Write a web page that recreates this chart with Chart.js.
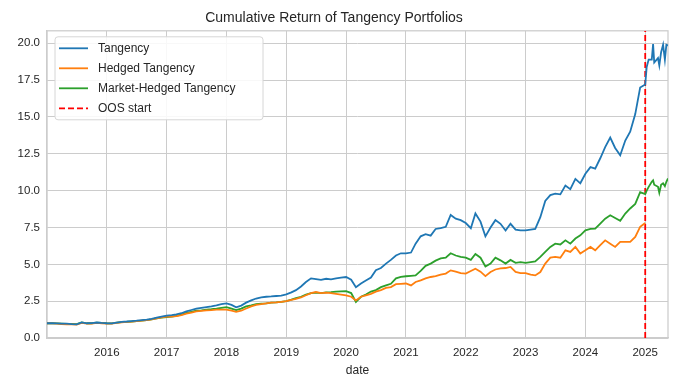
<!DOCTYPE html>
<html>
<head>
<meta charset="utf-8">
<script src="https://cdn.jsdelivr.net/npm/chart.js@4.4.1/dist/chart.umd.min.js"></script>
<style>
  html, body { margin: 0; padding: 0; background: #fff; }
  #grafico { display: block; }
</style>
</head>
<body>
<canvas id="grafico" width="676" height="387"></canvas>
<script>
// datas (mensal até 2024, mais denso em 2025)
const dates = [
  "2015-01-01","2015-02-01","2015-03-01","2015-04-01","2015-05-01","2015-06-01","2015-07-01","2015-08-01","2015-09-01","2015-10-01","2015-11-01","2015-12-01",
  "2016-01-01","2016-02-01","2016-03-01","2016-04-01","2016-05-01","2016-06-01","2016-07-01","2016-08-01","2016-09-01","2016-10-01","2016-11-01","2016-12-01",
  "2017-01-01","2017-02-01","2017-03-01","2017-04-01","2017-05-01","2017-06-01","2017-07-01","2017-08-01","2017-09-01","2017-10-01","2017-11-01","2017-12-01",
  "2018-01-01","2018-02-01","2018-03-01","2018-04-01","2018-05-01","2018-06-01","2018-07-01","2018-08-01","2018-09-01","2018-10-01","2018-11-01","2018-12-01",
  "2019-01-01","2019-02-01","2019-03-01","2019-04-01","2019-05-01","2019-06-01","2019-07-01","2019-08-01","2019-09-01","2019-10-01","2019-11-01","2019-12-01",
  "2020-01-01","2020-02-01","2020-03-01","2020-04-01","2020-05-01","2020-06-01","2020-07-01","2020-08-01","2020-09-01","2020-10-01","2020-11-01","2020-12-01",
  "2021-01-01","2021-02-01","2021-03-01","2021-04-01","2021-05-01","2021-06-01","2021-07-01","2021-08-01","2021-09-01","2021-10-01","2021-11-01","2021-12-01",
  "2022-01-01","2022-02-01","2022-03-01","2022-04-01","2022-05-01","2022-06-01","2022-07-01","2022-08-01","2022-09-01","2022-10-01","2022-11-01","2022-12-01",
  "2023-01-01","2023-02-01","2023-03-01","2023-04-01","2023-05-01","2023-06-01","2023-07-01","2023-08-01","2023-09-01","2023-10-01","2023-11-01","2023-12-01",
  "2024-01-01","2024-02-01","2024-03-01","2024-04-01","2024-05-01","2024-06-01","2024-07-01","2024-08-01","2024-09-01","2024-10-01","2024-11-01","2024-12-01",
  "2025-01-01","2025-01-10","2025-01-22","2025-02-10","2025-02-18","2025-02-25","2025-03-20","2025-03-28","2025-04-08","2025-04-20","2025-05-01","2025-05-10","2025-05-20"
];

const tangency = [
  1.00, 1.00, 0.99, 0.98, 0.97, 0.94, 0.93, 1.06, 1.00, 1.01, 1.05, 1.02,
  1.00, 0.99, 1.05, 1.10, 1.12, 1.15, 1.18, 1.22, 1.25, 1.30, 1.38, 1.45,
  1.52, 1.55, 1.60, 1.68, 1.80, 1.90, 2.00, 2.05, 2.10, 2.15, 2.22, 2.30,
  2.35, 2.25, 2.08, 2.20, 2.40, 2.55, 2.68, 2.75, 2.80, 2.82, 2.85, 2.88,
  2.96, 3.10, 3.25, 3.50, 3.80, 4.05, 4.00, 3.95, 4.02, 3.98, 4.05, 4.10,
  4.14, 3.95, 3.45, 3.70, 3.90, 4.10, 4.60, 4.75, 5.05, 5.30, 5.60, 5.75,
  5.75, 5.80, 6.40, 6.90, 7.05, 6.95, 7.40, 7.45, 7.55, 8.35, 8.10, 8.00,
  7.80, 7.45, 8.45, 7.90, 6.90, 7.50, 8.00, 7.75, 7.30, 7.75, 7.35, 7.30,
  7.30, 7.35, 7.40, 8.20, 9.30, 9.70, 9.80, 9.75, 10.35, 10.10, 10.80, 10.50,
  11.15, 11.60, 11.50, 12.20, 12.95, 13.60, 12.90, 12.40, 13.40, 14.00, 15.20, 17.00,
  17.20, 18.40, 18.90, 18.90, 19.95, 18.70, 19.00, 18.50, 19.40, 19.90, 18.90, 19.90, 19.85
];

const hedged = [
  1.00, 0.99, 0.97, 0.95, 0.93, 0.92, 0.91, 1.03, 0.97, 0.98, 1.02, 1.00,
  0.98, 0.97, 1.02, 1.06, 1.09, 1.11, 1.14, 1.18, 1.22, 1.27, 1.34, 1.40,
  1.45, 1.46, 1.48, 1.55, 1.65, 1.73, 1.80, 1.84, 1.87, 1.89, 1.92, 1.93,
  1.92, 1.85, 1.78, 1.85, 2.00, 2.15, 2.25, 2.30, 2.35, 2.40, 2.42, 2.45,
  2.50, 2.58, 2.65, 2.75, 2.90, 3.05, 3.12, 3.05, 3.08, 3.05, 3.00, 2.95,
  2.89, 2.80, 2.55, 2.80, 2.90, 3.00, 3.15, 3.25, 3.40, 3.46, 3.65, 3.68,
  3.70, 3.57, 3.80, 3.91, 4.05, 4.14, 4.20, 4.30, 4.37, 4.59, 4.50, 4.40,
  4.37, 4.55, 4.70, 4.50, 4.20, 4.48, 4.65, 4.72, 4.75, 4.82, 4.48, 4.40,
  4.40, 4.30, 4.25, 4.48, 5.05, 5.45, 5.50, 5.45, 5.95, 5.84, 6.18, 5.73,
  5.95, 6.18, 5.95, 6.30, 6.63, 6.40, 6.18, 6.52, 6.52, 6.52, 6.86, 7.54,
  7.81, null, null, null, null, null, null, null, null, null, null, null, null
];

const marketHedged = [
  1.00, 1.00, 0.99, 0.98, 0.96, 0.95, 0.94, 1.06, 1.00, 1.00, 1.04, 1.02,
  1.00, 0.99, 1.04, 1.08, 1.10, 1.12, 1.15, 1.18, 1.22, 1.27, 1.33, 1.38,
  1.41, 1.45, 1.50, 1.58, 1.70, 1.78, 1.85, 1.88, 1.93, 1.96, 2.00, 2.05,
  2.10, 2.00, 1.90, 2.00, 2.15, 2.22, 2.30, 2.33, 2.35, 2.40, 2.42, 2.45,
  2.50, 2.60, 2.70, 2.80, 2.95, 3.05, 3.08, 3.05, 3.10, 3.12, 3.15, 3.17,
  3.18, 3.05, 2.45, 2.80, 2.95, 3.15, 3.25, 3.45, 3.57, 3.68, 4.05, 4.15,
  4.19, 4.22, 4.25, 4.55, 4.90, 5.05, 5.25, 5.40, 5.45, 5.75, 5.60, 5.50,
  5.45, 5.30, 5.70, 5.45, 4.85, 5.05, 5.45, 5.27, 5.05, 5.30, 5.10, 5.15,
  5.10, 5.15, 5.20, 5.50, 5.84, 6.18, 6.40, 6.35, 6.63, 6.40, 6.75, 6.97,
  7.31, 7.40, 7.42, 7.77, 8.10, 8.33, 8.15, 7.95, 8.45, 8.79, 9.10, 9.90,
  9.76, 10.00, 10.26, 10.60, 10.70, 10.40, 10.26, 9.85, 10.40, 10.50, 10.30, 10.60, 10.83
];

const oosStart = "2025-01-01";
const xTicks = [2016, 2017, 2018, 2019, 2020, 2021, 2022, 2023, 2024, 2025];
const yTicks = [0, 2.5, 5, 7.5, 10, 12.5, 15, 17.5, 20];
const yMax = 20.85;

const corTexto = "#262626";
const corGrade = "#cccccc";
const fonte = "'Liberation Sans', Arial, sans-serif";

// data -> ano decimal
function anoDecimal(s) {
  const d = new Date(s + "T00:00:00Z");
  const ano = d.getUTCFullYear();
  const ini = Date.UTC(ano, 0, 1);
  const fim = Date.UTC(ano + 1, 0, 1);
  return ano + (d.getTime() - ini) / (fim - ini);
}

function pontos(valores) {
  return dates.map((dt, i) => ({ x: anoDecimal(dt), y: valores[i] }));
}

const xMin = anoDecimal(dates[0]);
const xMax = anoDecimal(dates[dates.length - 1]);
const xOos = anoDecimal(oosStart);

// moldura completa (spines do seaborn whitegrid)
const moldura = {
  id: "moldura",
  beforeDatasetsDraw(chart) {
    const { ctx, chartArea: ca } = chart;
    ctx.save();
    ctx.strokeStyle = corGrade;
    ctx.lineWidth = 1.25;
    ctx.strokeRect(ca.left, ca.top, ca.right - ca.left, ca.bottom - ca.top);
    ctx.restore();
  }
};

// legenda dentro do gráfico, estilo matplotlib
const legendaInterna = {
  id: "legendaInterna",
  afterDatasetsDraw(chart) {
    const ctx = chart.ctx;
    const ca = chart.chartArea;
    const x0 = ca.left + 8, y0 = ca.top + 6;
    const w = 208, h = 83;

    ctx.save();
    ctx.beginPath();
    ctx.roundRect(x0, y0, w, h, 3);
    ctx.fillStyle = "rgba(255,255,255,0.85)";
    ctx.fill();
    ctx.strokeStyle = "#d6d6d6";
    ctx.lineWidth = 1;
    ctx.stroke();

    ctx.font = "12px " + fonte;
    ctx.textBaseline = "middle";
    chart.data.datasets.forEach((ds, i) => {
      const yy = y0 + 11.5 + i * 20;
      ctx.beginPath();
      ctx.strokeStyle = ds.borderColor;
      ctx.lineWidth = ds.borderWidth;
      ctx.setLineDash(ds.borderDash || []);
      ctx.moveTo(x0 + 4, yy);
      ctx.lineTo(x0 + 33, yy);
      ctx.stroke();
      ctx.setLineDash([]);
      ctx.fillStyle = corTexto;
      ctx.fillText(ds.label, x0 + 43, yy + 0.5);
    });
    ctx.restore();
  }
};

new Chart(document.getElementById("grafico"), {
  type: "line",
  data: {
    datasets: [
      { label: "Tangency", data: pontos(tangency), borderColor: "#1f77b4", borderWidth: 1.8 },
      { label: "Hedged Tangency", data: pontos(hedged), borderColor: "#ff7f0e", borderWidth: 1.8 },
      { label: "Market-Hedged Tangency", data: pontos(marketHedged), borderColor: "#2ca02c", borderWidth: 1.8 },
      {
        label: "OOS start",
        data: [{ x: xOos, y: 0 }, { x: xOos, y: yMax }],
        borderColor: "#ff0000",
        borderWidth: 1.8,
        borderDash: [6, 3]
      }
    ]
  },
  options: {
    responsive: false,
    animation: false,
    parsing: false,
    elements: {
      point: { radius: 0 },
      line: { tension: 0, fill: false }
    },
    layout: { padding: { left: 0, right: 8, top: 0, bottom: 0 } },
    plugins: {
      legend: { display: false },
      tooltip: { enabled: false },
      title: {
        display: true,
        text: "Cumulative Return of Tangency Portfolios",
        color: corTexto,
        font: { family: fonte, size: 14, weight: "normal" },
        padding: { top: 10, bottom: 4 }
      }
    },
    scales: {
      x: {
        type: "linear",
        min: xMin,
        max: xMax,
        afterBuildTicks: (s) => { s.ticks = xTicks.map(v => ({ value: v })); },
        afterFit: (s) => { s.height = 49; },
        grid: { color: corGrade, lineWidth: 1, drawTicks: false },
        border: { color: corGrade, width: 1.25 },
        ticks: {
          color: corTexto,
          font: { family: fonte, size: 11.5 },
          padding: 8,
          maxRotation: 0,
          autoSkip: false,
          callback: (v) => String(v)
        },
        title: {
          display: true,
          text: "date",
          color: corTexto,
          font: { family: fonte, size: 12 },
          padding: { top: 0, bottom: 9 }
        }
      },
      y: {
        min: 0,
        max: yMax,
        afterBuildTicks: (s) => { s.ticks = yTicks.map(v => ({ value: v })); },
        afterFit: (s) => { s.width = 47; },
        grid: { color: corGrade, lineWidth: 1, drawTicks: false },
        border: { color: corGrade, width: 1.25 },
        ticks: {
          color: corTexto,
          font: { family: fonte, size: 11.5 },
          padding: 7,
          callback: (v) => v.toFixed(1)
        }
      }
    }
  },
  plugins: [moldura, legendaInterna]
});
</script>
</body>
</html>
